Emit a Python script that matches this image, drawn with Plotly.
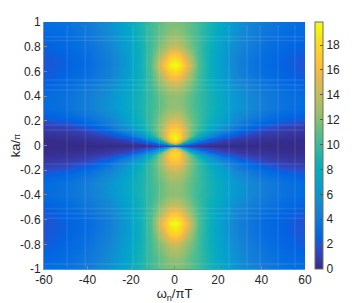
import plotly.graph_objects as go

# column positions, left half (omega_n / pi T); the right half mirrors them
x_left = [-59.5, -50, -40, -30, -22, -16, -11, -7, -4, -2, 0]
x_all = x_left + [-v for v in x_left[-2::-1]]

ky = [-0.99, -0.9, -0.8, -0.71, -0.63, -0.56, -0.48, -0.4, -0.3, -0.22, -0.16, -0.12, -0.08, -0.05, -0.025, -0.01,
      0, 0.01, 0.025, 0.05, 0.08, 0.12, 0.16, 0.22, 0.3, 0.4, 0.5, 0.58, 0.65, 0.72, 0.8, 0.9, 0.975]

z_rows = [
    [3.1, 3.4, 4.2, 5.6, 7.4, 8.9, 10.2, 11.0, 11.6, 11.8, 11.9],
    [2.7, 3.1, 3.9, 5.3, 7.1, 8.7, 10.2, 11.0, 12.0, 12.4, 12.6],
    [2.2, 2.7, 3.5, 4.9, 6.8, 8.4, 10.3, 11.8, 13.2, 14.0, 14.4],
    [1.9, 2.5, 3.2, 4.5, 6.5, 8.3, 10.5, 13.2, 15.8, 17.4, 18.0],
    [1.8, 2.4, 3.1, 4.4, 6.5, 8.4, 10.7, 14.5, 17.6, 19.2, 19.8],
    [2.0, 2.6, 3.3, 4.6, 6.6, 8.3, 10.5, 13.0, 15.5, 16.8, 17.4],
    [2.4, 3.0, 3.9, 5.2, 7.0, 8.5, 10.2, 11.8, 13.3, 14.0, 14.3],
    [3.0, 3.5, 4.4, 5.8, 7.4, 8.8, 10.0, 11.0, 11.9, 12.2, 12.3],
    [3.0, 3.5, 4.5, 5.9, 7.5, 8.8, 10.1, 11.0, 12.0, 12.5, 12.6],
    [2.2, 2.6, 3.5, 5.0, 7.0, 8.6, 10.2, 11.5, 13.0, 13.6, 13.8],
    [1.0, 1.3, 2.2, 3.8, 6.2, 8.1, 10.2, 11.8, 14.2, 15.3, 15.8],
    [0.6, 0.8, 1.3, 2.7, 5.0, 7.2, 9.8, 12.0, 15.0, 16.6, 17.0],
    [0.3, 0.4, 0.7, 1.3, 2.9, 5.2, 8.2, 11.5, 15.2, 17.5, 18.0],
    [0.2, 0.25, 0.4, 0.7, 1.3, 3.0, 5.6, 9.0, 14.2, 17.2, 18.2],
    [0.1, 0.1, 0.2, 0.4, 0.8, 1.5, 3.0, 5.5, 10.0, 14.5, 17.0],
    [0.05, 0.05, 0.1, 0.2, 0.4, 0.7, 1.2, 2.5, 5.0, 9.0, 12.0],
    [0.0, 0.0, 0.0, 0.05, 0.1, 0.2, 0.4, 0.7, 1.2, 1.5, 1.5],
    [0.05, 0.05, 0.1, 0.2, 0.4, 0.7, 1.2, 2.5, 5.0, 9.0, 12.0],
    [0.1, 0.1, 0.2, 0.4, 0.8, 1.5, 3.0, 5.5, 10.0, 15.0, 18.0],
    [0.2, 0.25, 0.4, 0.7, 1.3, 3.0, 5.6, 9.0, 14.5, 18.0, 19.5],
    [0.3, 0.4, 0.7, 1.3, 2.9, 5.2, 8.2, 11.5, 15.5, 18.5, 19.3],
    [0.6, 0.8, 1.3, 2.7, 5.0, 7.2, 9.8, 12.0, 15.5, 17.3, 18.0],
    [1.0, 1.3, 2.2, 3.8, 6.2, 8.1, 10.2, 12.0, 14.6, 16.0, 16.5],
    [2.2, 2.6, 3.5, 5.0, 7.0, 8.6, 10.2, 11.6, 13.4, 14.2, 14.5],
    [3.0, 3.5, 4.5, 5.9, 7.5, 8.8, 10.1, 11.0, 12.0, 12.5, 12.6],
    [3.0, 3.5, 4.4, 5.8, 7.4, 8.8, 10.0, 11.0, 11.9, 12.2, 12.3],
    [2.5, 3.0, 3.9, 5.2, 7.0, 8.5, 10.2, 11.8, 13.3, 14.0, 14.3],
    [2.1, 2.6, 3.3, 4.6, 6.6, 8.3, 10.5, 13.0, 15.5, 16.8, 17.4],
    [1.9, 2.4, 3.1, 4.4, 6.5, 8.4, 10.7, 14.5, 17.6, 19.2, 19.8],
    [2.0, 2.5, 3.2, 4.5, 6.5, 8.3, 10.5, 13.2, 15.8, 17.4, 18.0],
    [2.4, 2.8, 3.5, 4.9, 6.8, 8.4, 10.3, 11.8, 13.2, 14.0, 14.4],
    [2.8, 3.1, 3.9, 5.3, 7.1, 8.7, 10.2, 11.0, 12.0, 12.4, 12.6],
    [3.1, 3.4, 4.2, 5.6, 7.4, 8.9, 10.2, 11.0, 11.6, 11.8, 11.9],
]
z = [r + r[-2::-1] for r in z_rows]

# faint light grid streaks that run through the reference image
streak_x = [-49.4, -41, -19, -12.6, -7, 25, 33.3, 39.3, 47.6, 55.4]
streak_y = [-0.96, -0.59, -0.55, -0.51, -0.15, 0.125, 0.165, 0.45, 0.49, 0.53, 0.85, 0.88]

x_ticks = [-60, -40, -20, 0, 20, 40, 60]
x_labels = ["-60", "-40", "-20", "0", "20", "40", "60"]
y_ticks = [-1, -0.8, -0.6, -0.4, -0.2, 0, 0.2, 0.4, 0.6, 0.8, 1]
y_labels = ["-1", "-0.8", "-0.6", "-0.4", "-0.2", "0", "0.2", "0.4", "0.6", "0.8", "1"]
cb_ticks = [0, 2, 4, 6, 8, 10, 12, 14, 16, 18]

parula = [
    (0.2081, 0.1663, 0.5292), (0.2123, 0.2138, 0.6270), (0.1959, 0.2645, 0.7279), (0.1253, 0.3242, 0.8303),
    (0.0117, 0.3875, 0.8820), (0.0165, 0.4266, 0.8786), (0.0498, 0.4586, 0.8641), (0.0723, 0.4887, 0.8467),
    (0.0793, 0.5200, 0.8312), (0.0641, 0.5570, 0.8240), (0.0343, 0.5966, 0.8199), (0.0239, 0.6287, 0.8038),
    (0.0228, 0.6535, 0.7768), (0.0384, 0.6743, 0.7436), (0.0843, 0.6928, 0.7062), (0.1453, 0.7098, 0.6646),
    (0.2178, 0.7250, 0.6193), (0.3022, 0.7376, 0.5712), (0.3953, 0.7459, 0.5244), (0.4871, 0.7491, 0.4840),
    (0.5709, 0.7485, 0.4494), (0.6473, 0.7456, 0.4188), (0.7184, 0.7411, 0.3905), (0.7858, 0.7356, 0.3633),
    (0.8507, 0.7299, 0.3360), (0.9139, 0.7258, 0.3063), (0.9739, 0.7314, 0.2666), (0.9990, 0.7653, 0.2164),
    (0.9880, 0.8066, 0.1794), (0.9697, 0.8481, 0.1475), (0.9589, 0.8949, 0.1132), (0.9661, 0.9514, 0.0755),
    (0.9763, 0.9831, 0.0538),
]
colorscale = [[i / (len(parula) - 1), "rgb(%d,%d,%d)" % tuple(round(c * 255) for c in p)] for i, p in enumerate(parula)]

FONT = "Liberation Sans, Arial, sans-serif"
INK = "#262626"
AXIS = "#8a8a8a"

fig = go.Figure(go.Heatmap(
    x=x_all, y=ky, z=z, zmin=0, zmax=19.85, zsmooth="best", colorscale=colorscale,
    colorbar=dict(
        x=1.038, xanchor="left", y=0, yanchor="bottom", len=1, lenmode="fraction",
        thickness=8, thicknessmode="pixels", xpad=0, ypad=0,
        outlinecolor="#707050", outlinewidth=1,
        tickvals=cb_ticks, ticks="inside", ticklen=3, tickcolor="#555555",
        tickfont=dict(family=FONT, size=12, color=INK),
    ),
))
sx, sy = [], []
for v in streak_x:
    sx += [v, v, None]
    sy += [ky[0], ky[-1], None]
for v in streak_y:
    sx += [x_all[0], x_all[-1], None]
    sy += [v, v, None]
fig.add_trace(go.Scatter(x=sx, y=sy, mode="lines", line=dict(color="rgba(255,255,255,0.09)", width=1.5),
                         showlegend=False, hoverinfo="skip"))
fig.update_layout(
    width=354, height=295, autosize=False,
    margin=dict(l=36, r=57, t=14, b=34, pad=0, autoexpand=False),
    paper_bgcolor="white", plot_bgcolor="white",
    font=dict(family=FONT, size=12, color=INK),
    xaxis=dict(
        range=[-60, 60], tickvals=x_ticks, ticktext=x_labels, ticks="inside", ticklen=3, tickcolor=AXIS,
        showline=True, linecolor=AXIS, linewidth=1, showgrid=False, zeroline=False, automargin=False,
        tickfont=dict(family=FONT, size=12, color=INK),
        title=dict(text="ω<sub>n</sub>/πT", standoff=0, font=dict(family=FONT, size=13, color=INK)),
    ),
    yaxis=dict(
        range=[-1, 1], tickvals=y_ticks, ticktext=y_labels, ticks="inside", ticklen=3, tickcolor=AXIS,
        showline=True, linecolor=AXIS, linewidth=1, showgrid=False, zeroline=False, automargin=False,
        tickfont=dict(family=FONT, size=12, color=INK),
        title=dict(text="ka/<span style='font-size:9px'>π</span>", standoff=8, font=dict(family=FONT, size=13, color=INK)),
    ),
)
fig.write_html("out.html", config=dict(displayModeBar=False))
